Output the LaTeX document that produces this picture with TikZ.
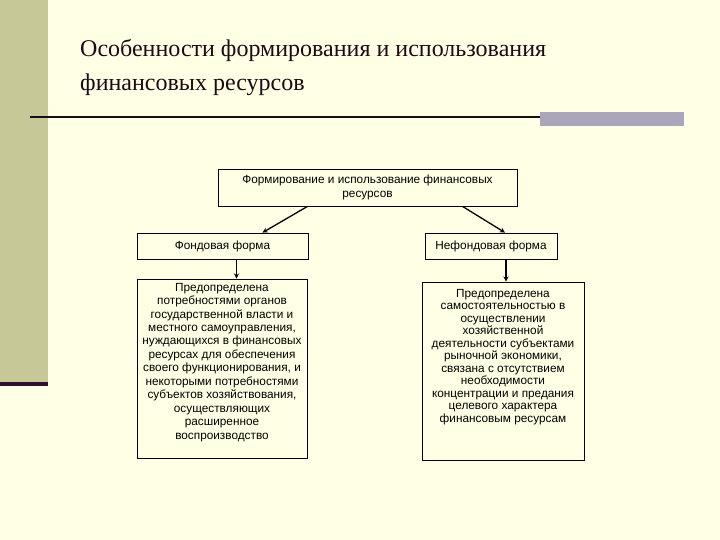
\documentclass[tikz,border=0pt]{standalone}
\usepackage{fontspec}
\setmainfont{Liberation Serif}
\newfontfamily\boxfont{Liberation Sans}
\usepackage{tikz}
\usetikzlibrary{arrows,positioning}
\usepackage{xcolor}
\definecolor{slidebg}{RGB}{255,255,229}
\definecolor{sidebar}{RGB}{199,200,152}
\definecolor{sidedark}{RGB}{48,14,44}
\definecolor{rulegray}{RGB}{172,166,186}
\definecolor{titleink}{RGB}{30,10,20}
\tikzstyle{arrow} = [line width=1.3pt,->,>=stealth,color=black]
\tikzstyle{formbox} = [rectangle, draw=black, fill=slidebg, line width=0.8pt, font=\boxfont\fontsize{11.8}{13.4}\selectfont, align=center, inner sep=0pt]

\begin{document}
\begin{tikzpicture}[x=1pt, y=-1pt]
\useasboundingbox (0,0) rectangle (720,540);
% slide background
\fill[slidebg] (0,0) rectangle (720,540);
\fill[sidebar] (0,0) rectangle (48,382);
\fill[sidedark] (0,382) rectangle (48,386);
\draw[line width=2pt, titleink] (30,117.5) -- (540,117.5);
\fill[rulegray] (540,112) rectangle (684,126);

% title
\node (title) [anchor=west, align=left, inner sep=0pt, text=titleink, font=\fontsize{24}{34}\selectfont] at (80,68) {Особенности формирования и использования\\финансовых ресурсов};

% forms
\node (source) [formbox, minimum width=299pt, minimum height=37pt] at (367.5,187.5) {Формирование и использование финансовых\\ресурсов};
\node (fond) [formbox, minimum width=171pt, minimum height=26pt] at (222.5,246) {Фондовая форма};
\node (nefond) [formbox, minimum width=132pt, minimum height=26pt] at (491,246) {Нефондовая форма};
\node (fondnote) [formbox, minimum width=170pt, minimum height=179pt] at (222,368.5) {\parbox[c][171pt][t]{168pt}{\centering\fontsize{11.8}{13.45}\selectfont Предопределена\\потребностями органов\\государственной власти и\\местного самоуправления,\\нуждающихся в финансовых\\ресурсах для обеспечения\\своего функционирования, и\\некоторыми потребностями\\субъектов хозяйствования,\\осуществляющих\\расширенное\\воспроизводство}};
\node (nefondnote) [formbox, minimum width=162pt, minimum height=178pt] at (503,371) {\parbox[c][164pt][t]{160pt}{\centering\fontsize{11.8}{12.5}\selectfont Предопределена\\самостоятельностью в\\осуществлении\\хозяйственной\\деятельности субъектами\\рыночной экономики,\\связана с отсутствием\\необходимости\\концентрации и предания\\целевого характера\\финансовым ресурсам}};

\draw[arrow] ([xshift=-60pt]source.south) -- ([xshift=40pt]fond.north);
\draw[arrow] ([xshift=95pt]source.south) -- ([xshift=14pt]nefond.north);
\draw[arrow] ([xshift=14pt]fond.south) -- ([xshift=14pt]fond.south |- fondnote.north);
\draw[arrow] ([xshift=15pt]nefond.south) -- ([xshift=15pt]nefond.south |- nefondnote.north);
\end{tikzpicture}
\end{document}
